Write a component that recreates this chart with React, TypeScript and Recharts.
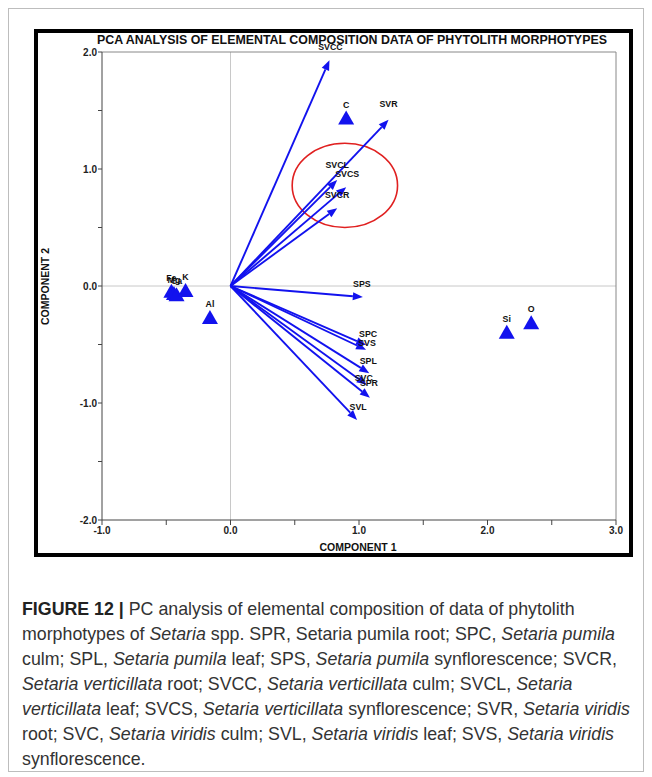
import React from "react";
import { ScatterChart, Scatter, XAxis, YAxis, ReferenceLine } from "recharts";

// loading vectors (arrows from the origin)
const loadingNames = ["SVCC", "SVR", "SVCL", "SVCS", "SVCR", "SPS", "SPC", "SVS", "SPL", "SVC", "SPR", "SVL"];
const loadingX = [0.77, 1.23, 0.83, 0.9, 0.83, 1.03, 1.055, 1.055, 1.08, 1.06, 1.085, 0.985];
const loadingY = [1.93, 1.42, 0.905, 0.845, 0.665, -0.095, -0.505, -0.545, -0.745, -0.845, -0.955, -1.145];

// element scores (triangles)
const elementNames = ["C", "Fe", "Mg", "Ca", "K", "Al", "Si", "O"];
const elementX = [0.9, -0.46, -0.44, -0.42, -0.35, -0.16, 2.15, 2.34];
const elementY = [1.44, -0.04, -0.06, -0.07, -0.035, -0.265, -0.39, -0.31];

// highlighted group (red ellipse), centre and radii in axis units
const ringCenter = [0.89, 0.86];
const ringRadius = [0.41, 0.36];

const xTicks = [-1, -0.5, 0, 0.5, 1, 1.5, 2, 2.5, 3];
const yTicks = [-2, -1.5, -1, -0.5, 0, 0.5, 1, 1.5, 2];

// layout
const CHART_W = 652;
const CHART_H = 600;
const MARGIN = { top: 52, right: 36, bottom: 50, left: 72 };
const Y_AXIS_W = 30;
const X_AXIS_H = 30;
const PLOT_W = CHART_W - MARGIN.left - MARGIN.right - Y_AXIS_W;
const PLOT_H = CHART_H - MARGIN.top - MARGIN.bottom - X_AXIS_H;
const PX_X = PLOT_W / 4;
const PX_Y = PLOT_H / 4;

const BLUE = "#1212ee";
const FONT = "'Liberation Sans', Arial, sans-serif";

// label nudges (px) relative to the arrow tip
const arrowLabelNudge: Record<string, [number, number]> = {
  SVCC: [1, -13],
  SVR: [0, -16],
  SVCL: [0, -15],
  SVCS: [1, -13],
  SVCR: [0, -13],
  SPS: [-1, -13],
  SPC: [2, -11],
  SVS: [1, -7],
  SPL: [-1, -12],
  SVC: [-3, -7],
  SPR: [-1, -15],
  SVL: [1, -13],
};

const loadings = loadingNames.map((name, i) => ({ name, x: loadingX[i], y: loadingY[i] }));
const elements = elementNames.map((name, i) => ({ name, x: elementX[i], y: elementY[i] }));
const ring = [{ x: ringCenter[0], y: ringCenter[1] }];

const fmt = (v: number) => (Number.isInteger(v) ? v.toFixed(1) : "");

function ArrowShape(props: any) {
  const { cx, cy, payload } = props;
  const ox = cx - payload.x * PX_X;
  const oy = cy + payload.y * PX_Y;
  const ang = Math.atan2(cy - oy, cx - ox);
  const c = Math.cos(ang);
  const s = Math.sin(ang);
  const len = 10;
  const half = 4;
  const bx = cx - len * c;
  const by = cy - len * s;
  const pts = `${cx},${cy} ${bx - half * s},${by + half * c} ${bx + half * s},${by - half * c}`;
  const [dx, dy] = arrowLabelNudge[payload.name] || [0, -13];
  return (
    <g>
      <line x1={ox} y1={oy} x2={bx} y2={by} stroke={BLUE} strokeWidth={1.9} />
      <polygon points={pts} fill={BLUE} />
      <text
        x={cx + dx}
        y={cy + dy}
        textAnchor="middle"
        dominantBaseline="central"
        fontSize={8.8}
        fontWeight="bold"
        fontFamily={FONT}
        fill="#111"
      >
        {payload.name}
      </text>
    </g>
  );
}

function TriangleShape(props: any) {
  const { cx, cy, payload } = props;
  const pts = `${cx},${cy - 7} ${cx + 8},${cy + 7} ${cx - 8},${cy + 7}`;
  return (
    <g>
      <polygon points={pts} fill={BLUE} />
      <text
        x={cx}
        y={cy - 13}
        textAnchor="middle"
        dominantBaseline="central"
        fontSize={8.8}
        fontWeight="bold"
        fontFamily={FONT}
        fill="#111"
      >
        {payload.name}
      </text>
    </g>
  );
}

function RingShape(props: any) {
  const { cx, cy } = props;
  return (
    <ellipse
      cx={cx}
      cy={cy}
      rx={ringRadius[0] * PX_X}
      ry={ringRadius[1] * PX_Y}
      fill="none"
      stroke="#e02020"
      strokeWidth={1.6}
    />
  );
}

const tickStyle = { fontSize: 10, fontWeight: "bold" as const, fill: "#222", fontFamily: FONT };

export default function App() {
  return (
    <div
      style={{
        position: "absolute",
        left: 0,
        top: 0,
        width: 652,
        height: 777,
        background: "#fff",
        fontFamily: FONT,
        overflow: "hidden",
      }}
    >
      {/* outer figure border */}
      <div
        style={{
          position: "absolute",
          left: 8,
          top: 8,
          width: 636,
          height: 764,
          border: "1px solid #bdbdbd",
          boxSizing: "border-box",
        }}
      />
      {/* chart frame */}
      <div
        style={{
          position: "absolute",
          left: 34,
          top: 29,
          width: 599,
          height: 528,
          border: "4px solid #000",
          boxSizing: "border-box",
        }}
      />
      <div
        style={{
          position: "absolute",
          left: 52,
          top: 33,
          width: 600,
          textAlign: "center",
          fontSize: 12.4,
          lineHeight: "15px",
          fontWeight: "bold",
          color: "#111",
          whiteSpace: "nowrap",
        }}
      >
        PCA ANALYSIS OF ELEMENTAL COMPOSITION DATA OF PHYTOLITH MORPHOTYPES
      </div>
      <div
        style={{
          position: "absolute",
          left: 258,
          top: 541,
          width: 200,
          textAlign: "center",
          fontSize: 10.5,
          lineHeight: "13px",
          fontWeight: "bold",
          color: "#111",
        }}
      >
        COMPONENT 1
      </div>
      <div
        style={{
          position: "absolute",
          left: -55,
          top: 280,
          width: 200,
          textAlign: "center",
          fontSize: 10.5,
          lineHeight: "13px",
          fontWeight: "bold",
          color: "#111",
          transform: "rotate(-90deg)",
        }}
      >
        COMPONENT 2
      </div>
      <div style={{ position: "absolute", left: 0, top: 0 }}>
        <ScatterChart width={CHART_W} height={CHART_H} margin={MARGIN}>
          <XAxis
            type="number"
            dataKey="x"
            domain={[-1, 3]}
            ticks={xTicks}
            tickFormatter={fmt}
            interval={0}
            height={X_AXIS_H}
            tick={tickStyle}
            stroke="#444"
            tickSize={5}
            tickMargin={2}
          />
          <YAxis
            type="number"
            dataKey="y"
            domain={[-2, 2]}
            ticks={yTicks}
            tickFormatter={fmt}
            interval={0}
            width={Y_AXIS_W}
            tick={tickStyle}
            stroke="#444"
            tickSize={4}
            tickMargin={1}
          />
          <ReferenceLine x={0} stroke="#c8c8c8" strokeWidth={1} />
          <ReferenceLine y={0} stroke="#c8c8c8" strokeWidth={1} />
          <ReferenceLine y={2} stroke="#888" strokeWidth={1} />
          <ReferenceLine x={3} stroke="#888" strokeWidth={1} />
          <Scatter data={ring} shape={RingShape} isAnimationActive={false} />
          <Scatter data={loadings} shape={ArrowShape} isAnimationActive={false} />
          <Scatter data={elements} shape={TriangleShape} isAnimationActive={false} />
        </ScatterChart>
      </div>
      {/* caption */}
      <div
        style={{
          position: "absolute",
          left: 22,
          top: 597,
          fontSize: 17.8,
          lineHeight: "25px",
          color: "#333",
          whiteSpace: "nowrap",
        }}
      >
        <div>
          <b style={{ color: "#222" }}>FIGURE 12 |</b> PC analysis of elemental composition of data of phytolith
        </div>
        <div>
          morphotypes of <i>Setaria</i> spp. SPR, Setaria pumila root; SPC, <i>Setaria pumila</i>
        </div>
        <div>
          culm; SPL, <i>Setaria pumila</i> leaf; SPS, <i>Setaria pumila</i> synflorescence; SVCR,
        </div>
        <div>
          <i>Setaria verticillata</i> root; SVCC, <i>Setaria verticillata</i> culm; SVCL, <i>Setaria</i>
        </div>
        <div>
          <i>verticillata</i> leaf; SVCS, <i>Setaria verticillata</i> synflorescence; SVR, <i>Setaria viridis</i>
        </div>
        <div>
          root; SVC, <i>Setaria viridis</i> culm; SVL, <i>Setaria viridis</i> leaf; SVS, <i>Setaria viridis</i>
        </div>
        <div>synflorescence.</div>
      </div>
    </div>
  );
}
